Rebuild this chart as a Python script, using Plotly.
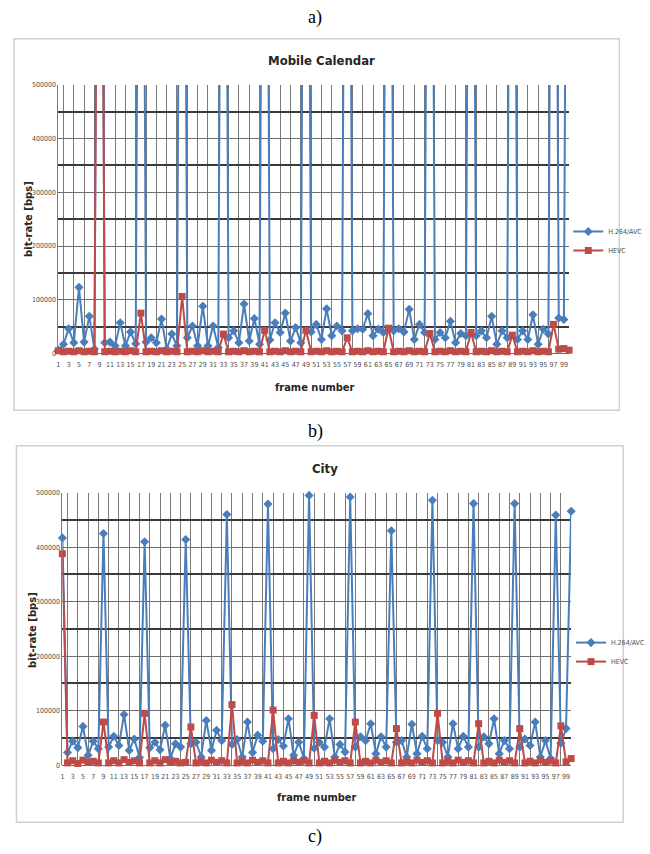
import plotly.graph_objects as go

frames = list(range(1, 101))

# Mobile Calendar
mc_h264 = [6000, 17000, 46000, 20000, 123000, 21000, 69000, 8000, 1900000, 20000,
           21000, 14000, 57000, 14000, 40000, 18000, 2000000, 21000, 29000, 20000,
           64000, 8000, 36000, 14000, 2100000, 29000, 51000, 14000, 88000, 14000,
           51000, 11000, 2000000, 29000, 42000, 20000, 92000, 23000, 65000, 17000,
           2000000, 25000, 57000, 39000, 75000, 23000, 48000, 20000, 2000000, 40000,
           54000, 26000, 83000, 33000, 51000, 42000, 2000000, 42000, 46000, 45000,
           74000, 33000, 45000, 39000, 2000000, 42000, 46000, 40000, 82000, 26000,
           54000, 39000, 2000000, 26000, 39000, 29000, 60000, 20000, 37000, 33000,
           2000000, 33000, 42000, 29000, 69000, 17000, 42000, 29000, 2000000, 26000,
           42000, 26000, 72000, 17000, 45000, 36000, 2000000, 66000, 63000, 2000000]
mc_hevc = [5000, 3000, 4000, 3000, 5000, 3000, 4000, 3000, 1800000, 3000,
           4000, 3000, 4000, 3000, 5000, 3000, 75000, 3000, 4000, 3000,
           5000, 3000, 4000, 3000, 106000, 3000, 4000, 3000, 5000, 3000,
           4000, 3000, 36000, 3000, 4000, 3000, 5000, 3000, 4000, 3000,
           43000, 3000, 4000, 3000, 5000, 3000, 4000, 3000, 43000, 3000,
           4000, 3000, 5000, 3000, 4000, 3000, 29000, 3000, 4000, 3000,
           5000, 3000, 4000, 3000, 47000, 3000, 4000, 3000, 5000, 3000,
           4000, 3000, 37000, 3000, 4000, 3000, 5000, 3000, 4000, 3000,
           39000, 3000, 4000, 3000, 5000, 3000, 4000, 3000, 34000, 3000,
           4000, 3000, 5000, 3000, 4000, 3000, 54000, 8000, 9000, 6000]

# City
city_h264 = [417000, 23000, 44000, 32000, 71000, 18000, 44000, 30000, 425000, 33000,
             53000, 36000, 93000, 27000, 48000, 14000, 410000, 32000, 42000, 28000,
             73000, 12000, 39000, 33000, 414000, 39000, 42000, 15000, 82000, 27000,
             64000, 45000, 460000, 38000, 47000, 15000, 79000, 23000, 55000, 44000,
             479000, 30000, 47000, 35000, 85000, 18000, 42000, 12000, 495000, 31000,
             42000, 33000, 85000, 15000, 38000, 24000, 492000, 33000, 52000, 45000,
             76000, 21000, 52000, 33000, 430000, 42000, 45000, 15000, 75000, 21000,
             53000, 30000, 486000, 45000, 42000, 15000, 76000, 30000, 53000, 33000,
             480000, 33000, 52000, 39000, 85000, 21000, 45000, 30000, 480000, 33000,
             48000, 36000, 79000, 15000, 45000, 12000, 459000, 40000, 67000, 466000]
city_hevc = [388000, 4000, 8000, 3000, 9000, 5000, 7000, 4000, 79000, 4000,
             8000, 4000, 10000, 5000, 8000, 4000, 95000, 4000, 8000, 4000,
             10000, 5000, 7000, 4000, 5000, 70000, 4000, 7000, 4000, 9000,
             5000, 8000, 4000, 111000, 4000, 7000, 4000, 9000, 5000, 8000,
             4000, 101000, 4000, 7000, 4000, 8000, 5000, 8000, 4000, 91000,
             4000, 7000, 4000, 9000, 5000, 8000, 4000, 79000, 4000, 7000,
             4000, 9000, 5000, 8000, 4000, 67000, 4000, 7000, 4000, 9000,
             5000, 8000, 4000, 95000, 4000, 7000, 4000, 9000, 5000, 8000,
             4000, 76000, 4000, 7000, 4000, 9000, 5000, 8000, 4000, 67000,
             4000, 7000, 4000, 9000, 5000, 8000, 4000, 72000, 6000, 12000]

y_ticks = [0, 100000, 200000, 300000, 400000, 500000]
y_minor = [50000, 150000, 250000, 350000, 450000]
x_labels = frames[0::2]
x_grid = frames[1::2]

W, H = 650, 854
BLUE = "#4a7ebb"
RED = "#be4b48"
TICK = "#4d4d4d"
NARROW = "Liberation Sans Narrow, DejaVu Sans Condensed, Arial"
SERIF = "Liberation Serif, Times New Roman, serif"


def px_x(p):
    return p / W


def px_y(p):
    return 1 - p / H


fig = go.Figure()

panels = [
    dict(h=mc_h264, v=mc_hevc, xa="x", ya="y", leg="legend"),
    dict(h=city_h264, v=city_hevc, xa="x2", ya="y2", leg="legend2"),
]
for p in panels:
    fig.add_trace(go.Scatter(x=frames, y=p["h"], name="H.264/AVC", mode="lines+markers",
                             line=dict(color=BLUE, width=2),
                             marker=dict(symbol="diamond", size=7, color=BLUE),
                             cliponaxis=False, xaxis=p["xa"], yaxis=p["ya"], legend=p["leg"]))
    fig.add_trace(go.Scatter(x=frames, y=p["v"], name="HEVC", mode="lines+markers",
                             line=dict(color=RED, width=2),
                             marker=dict(symbol="square", size=7, color=RED),
                             cliponaxis=False, xaxis=p["xa"], yaxis=p["ya"], legend=p["leg"]))

xcommon = dict(range=[1, 100], tickmode="array", tickvals=x_labels,
               ticktext=[str(v) for v in x_labels], showgrid=False, tickangle=0,
               tickfont=dict(family=NARROW, size=7, color=TICK),
               ticks="", showline=False, zeroline=False, ticklabelstandoff=6,
               minor=dict(tickvals=x_grid, showgrid=True, gridcolor="#7a7a7a", gridwidth=1))
ycommon = dict(range=[0, 500000], tickmode="array", tickvals=y_ticks,
               ticktext=[str(v) for v in y_ticks], showgrid=True,
               gridcolor="#6e6e6e", gridwidth=1.2, zeroline=True, zerolinecolor="#6e6e6e",
               zerolinewidth=1.2, ticks="",
               tickfont=dict(family=NARROW, size=7, color=TICK),
               showline=True, linecolor="#7a7a7a", linewidth=1,
               minor=dict(tickvals=y_minor, showgrid=True, gridcolor="#3a3a3a", gridwidth=1.6))

fig.update_layout(
    width=W, height=H, margin=dict(l=0, r=0, t=0, b=0),
    paper_bgcolor="white", plot_bgcolor="white",
    xaxis=dict(domain=[px_x(58.5), px_x(588.8)], anchor="y", **xcommon),
    yaxis=dict(domain=[px_y(352.7), px_y(81.7)], anchor="x", **ycommon),
    xaxis2=dict(domain=[px_x(62.7), px_x(591)], anchor="y2", **xcommon),
    yaxis2=dict(domain=[px_y(768.3), px_y(493.3)], anchor="x2", **ycommon),
    legend=dict(x=px_x(588), y=px_y(215), xanchor="left", yanchor="top",
                font=dict(family=NARROW, size=7, color=TICK),
                itemwidth=30, tracegroupgap=0, bgcolor="rgba(0,0,0,0)"),
    legend2=dict(x=px_x(591), y=px_y(630), xanchor="left", yanchor="top",
                 font=dict(family=NARROW, size=7, color=TICK),
                 itemwidth=30, tracegroupgap=0, bgcolor="rgba(0,0,0,0)"),
    showlegend=True,
)

shapes = [
    dict(type="rect", xref="paper", yref="paper", x0=px_x(12.5), x1=px_x(641),
         y0=px_y(410), y1=px_y(35), line=dict(color="#d0d0d0", width=1.5)),
    dict(type="rect", xref="paper", yref="paper", x0=px_x(15), x1=px_x(645),
         y0=px_y(826), y1=px_y(446), line=dict(color="#d0d0d0", width=1.5)),
]
fig.update_layout(shapes=shapes)

ann = [
    dict(text="a)", x=px_x(325), y=px_y(14), font=dict(family=SERIF, size=18, color="black")),
    dict(text="b)", x=px_x(325), y=px_y(432), font=dict(family=SERIF, size=18, color="black")),
    dict(text="c)", x=px_x(325), y=px_y(840), font=dict(family=SERIF, size=18, color="black")),
    dict(text="<b>Mobile Calendar</b>", x=px_x(332), y=px_y(57),
         font=dict(family=NARROW, size=13, color="#262626")),
    dict(text="<b>City</b>", x=px_x(335), y=px_y(469),
         font=dict(family=NARROW, size=13, color="#262626")),
    dict(text="<b>bit-rate [bps]</b>", x=px_x(28), y=px_y(217), textangle=-90,
         font=dict(family="DejaVu Sans, Arial", size=10, color="#262626")),
    dict(text="<b>bit-rate [bps]</b>", x=px_x(31), y=px_y(632), textangle=-90,
         font=dict(family="DejaVu Sans, Arial", size=10, color="#262626")),
    dict(text="<b>frame number</b>", x=px_x(325), y=px_y(387),
         font=dict(family=NARROW, size=11, color="#262626")),
    dict(text="<b>frame number</b>", x=px_x(327), y=px_y(801),
         font=dict(family=NARROW, size=11, color="#262626")),
]
for a in ann:
    a.update(xref="paper", yref="paper", showarrow=False, xanchor="center", yanchor="middle")
fig.update_layout(annotations=ann)

fig.write_html("out.html")
